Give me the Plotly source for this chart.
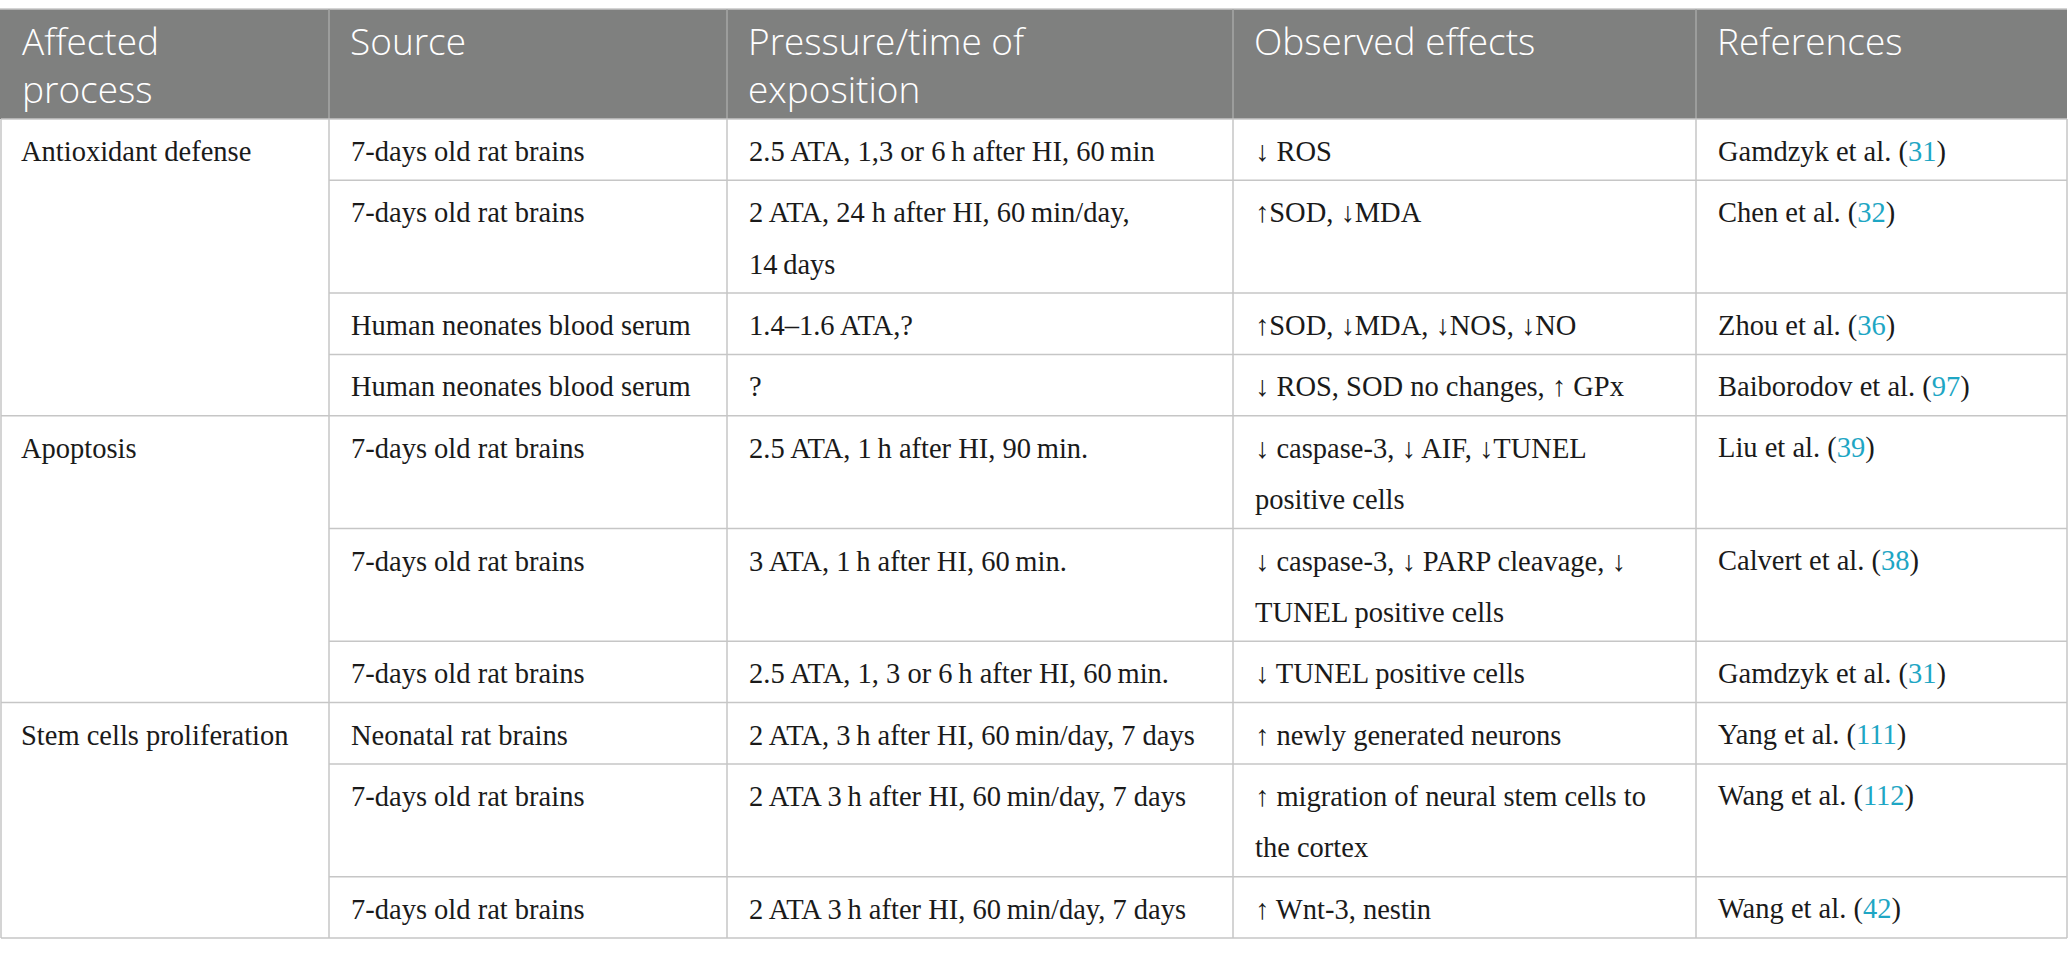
import plotly.graph_objects as go

# ---------------- data ----------------
header = ["Affected<br>process", "Source", "Pressure/time of<br>exposition",
          "Observed effects", "References"]

processes = ["Antioxidant defense", "Apoptosis", "Stem cells proliferation"]
process_rows = [4, 3, 3]

T = "\u2009"  # thin space between numbers and units

sources = [
    "7-days old rat brains",
    "7-days old rat brains",
    "Human neonates blood serum",
    "Human neonates blood serum",
    "7-days old rat brains",
    "7-days old rat brains",
    "7-days old rat brains",
    "Neonatal rat brains",
    "7-days old rat brains",
    "7-days old rat brains",
]

exposition = [
    f"2.5 ATA, 1,3 or 6{T}h after HI, 60{T}min",
    f"2 ATA, 24 h after HI, 60{T}min/day,<br>14{T}days",
    "1.4–1.6 ATA,?",
    "?",
    f"2.5 ATA, 1{T}h after HI, 90{T}min.",
    f"3 ATA, 1{T}h after HI, 60{T}min.",
    f"2.5 ATA, 1, 3 or 6{T}h after HI, 60{T}min.",
    f"2 ATA, 3{T}h after HI, 60{T}min/day, 7 days",
    f"2 ATA 3{T}h after HI, 60{T}min/day, 7 days",
    f"2 ATA 3{T}h after HI, 60{T}min/day, 7 days",
]

effects = [
    "↓ ROS",
    "↑SOD, ↓MDA",
    "↑SOD, ↓MDA, ↓NOS, ↓NO",
    "↓ ROS, SOD no changes, ↑ GPx",
    "↓ caspase-3, ↓ AIF, ↓TUNEL<br>positive cells",
    "↓ caspase-3, ↓ PARP cleavage, ↓<br>TUNEL positive cells",
    "↓ TUNEL positive cells",
    "↑ newly generated neurons",
    "↑ migration of neural stem cells to<br>the cortex",
    "↑ Wnt-3, nestin",
]

ref_authors = [
    "Gamdzyk et al.", "Chen et al.", "Zhou et al.", "Baiborodov et al.",
    "Liu et al.", "Calvert et al.", "Gamdzyk et al.", "Yang et al.",
    "Wang et al.", "Wang et al.",
]
ref_numbers = ["31", "32", "36", "97", "39", "38", "31", "111", "112", "42"]

# ---------------- layout / style ----------------
W, H = 2068, 957
COL_EDGES = [1, 329, 727, 1233, 1696, 2067]
TOP = 9
HEADER_H = 110
ROW_BASE = 61.3
ROW_LINE = 51.5
PAD = 20

HEADER_BG = "#7f807f"
HEADER_SEP = "#a6a7a6"
GRID = "#c6c6c6"
TEXT = "#1a1a1a"
LINK = "#1ea6c4"

SERIF = "Liberation Serif, Times New Roman, serif"
SANS = "Open Sans, Noto Sans, sans-serif"
BODY_SIZE = 28.5
HEAD_SIZE = 37

references = [f"{a} (<span style='color:{LINK}'>{n}</span>)"
              for a, n in zip(ref_authors, ref_numbers)]
columns = [sources, exposition, effects, references]

# row geometry derived from number of text lines in each row
n_rows = len(sources)
row_lines = [max(len(col[i].split("<br>")) for col in columns) for i in range(n_rows)]
row_tops = []
y = TOP + HEADER_H
for nl in row_lines:
    row_tops.append(y)
    y += ROW_BASE + ROW_LINE * (nl - 1)
bottom = y

group_starts = []
acc = 0
for n in process_rows:
    group_starts.append(acc)
    acc += n

fig = go.Figure()
shapes = []
annotations = []

# header background
shapes.append(dict(type="rect", xref="x", yref="y", x0=COL_EDGES[0] - 1, x1=COL_EDGES[-1],
                   y0=TOP, y1=TOP + HEADER_H, fillcolor=HEADER_BG, line=dict(width=0),
                   layer="below"))
# top border
shapes.append(dict(type="line", xref="x", yref="y", x0=COL_EDGES[0] - 1, x1=COL_EDGES[-1],
                   y0=TOP, y1=TOP, line=dict(color=GRID, width=1.5)))
# header column separators
for xe in COL_EDGES[1:-1]:
    shapes.append(dict(type="line", xref="x", yref="y", x0=xe, x1=xe,
                       y0=TOP, y1=TOP + HEADER_H, line=dict(color=HEADER_SEP, width=1.5)))
# body vertical lines
for xe in COL_EDGES:
    shapes.append(dict(type="line", xref="x", yref="y", x0=xe, x1=xe,
                       y0=TOP + HEADER_H, y1=bottom, line=dict(color=GRID, width=1.5)))
# horizontal lines
for i, rt in enumerate(row_tops):
    x0 = COL_EDGES[0] if (i in group_starts) else COL_EDGES[1]
    shapes.append(dict(type="line", xref="x", yref="y", x0=x0, x1=COL_EDGES[-1],
                       y0=rt, y1=rt, line=dict(color=GRID, width=1.5)))
shapes.append(dict(type="line", xref="x", yref="y", x0=COL_EDGES[0], x1=COL_EDGES[-1],
                   y0=bottom, y1=bottom, line=dict(color=GRID, width=1.5)))

# header text (one annotation per header cell)
HEAD_TOP_OFFSET = 4
for c, label in enumerate(header):
    annotations.append(dict(x=COL_EDGES[c] + PAD - 1, y=TOP + HEAD_TOP_OFFSET,
                            xref="x", yref="y", text=label, showarrow=False,
                            xanchor="left", yanchor="top", align="left",
                            font=dict(family=SANS, size=HEAD_SIZE, color="white",
                                      weight=300)))

BODY_FIRST = 32.5
# process column (spanning cells)
for g, name in zip(group_starts, processes):
    annotations.append(dict(x=COL_EDGES[0] + PAD - 2, y=row_tops[g] + BODY_FIRST,
                            xref="x", yref="y", text=name, showarrow=False,
                            xanchor="left", yanchor="middle",
                            font=dict(family=SERIF, size=BODY_SIZE, color=TEXT)))

# other columns
for c, col in enumerate(columns, start=1):
    for i, cell in enumerate(col):
        for k, part in enumerate(cell.split("<br>")):
            annotations.append(dict(x=COL_EDGES[c] + PAD,
                                    y=row_tops[i] + BODY_FIRST + k * ROW_LINE,
                                    xref="x", yref="y", text=part, showarrow=False,
                                    xanchor="left", yanchor="middle",
                                    font=dict(family=SERIF, size=BODY_SIZE, color=TEXT)))

fig.update_layout(
    width=W, height=H,
    margin=dict(l=0, r=0, t=0, b=0),
    paper_bgcolor="white", plot_bgcolor="white",
    xaxis=dict(range=[0, W], visible=False, fixedrange=True),
    yaxis=dict(range=[H, 0], visible=False, fixedrange=True),
    shapes=shapes, annotations=annotations,
    showlegend=False,
)

fig.write_html("out.html",
               config={"displayModeBar": False},
               post_script="document.body.style.margin='0';document.body.style.overflow='hidden';")
